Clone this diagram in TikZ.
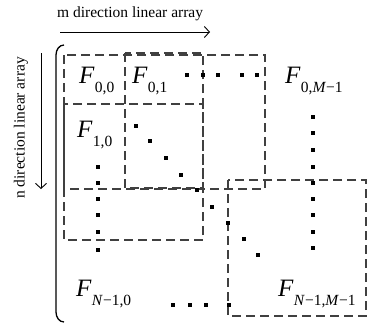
\documentclass[tikz,border=0pt]{standalone}
\usepackage{fontspec}
\setmainfont{Liberation Serif}
\usetikzlibrary{arrows.meta}
\newcommand\Fel[1]{{\fontsize{25}{25}\selectfont\itshape F}\kern0.5pt\raisebox{-9pt}{\fontsize{15.5}{15.5}\selectfont #1}}
\begin{document}
\begin{tikzpicture}[x=1pt,y=-1pt,
  box/.style={draw=black!75, line width=1.8pt, dash pattern=on 9pt off 5pt},
  dotfill/.style={fill=black},
  lbl/.style={anchor=base west, inner sep=0pt},
  axis/.style={line width=0.9pt, -{Straight Barb[length=5pt,width=11pt,line width=0.9pt]}},
  axtext/.style={inner sep=0pt, font=\fontsize{15.5}{15.5}\selectfont}]
\useasboundingbox (0,0) rectangle (372,327);
% axis labels and arrows
\node[axtext, anchor=base west] (mt) at (57,17) {m direction linear array};
\coordinate (ma) at (60,32);
\coordinate (mb) at (210,32);
\draw[axis] (ma) -- (mb);
\node[axtext, rotate=90] (nt) at (21,128) {n direction linear array};
\coordinate (na) at (41,53);
\coordinate (nb) at (41,189);
\draw[axis] (na) -- (nb);
% bracket
\draw[line width=1.3pt] (64,45) to[out=180,in=90] (56,55) -- (56,312) to[out=-90,in=180] (64,322);
% dashed boxes
\draw[box] (64,55) rectangle (265,189);
\draw[box] (125,53) rectangle (203,188);
\draw[box] (64,104) rectangle (203,240);
\draw[box] (228,180) rectangle (366,316);
% dots
\foreach \x/\y in {187/75,203/75,218/75,242/75,257/75,
  313/117,313/133,313/150,313/167,313/183,313/199,313/215,313/232,313/248,
  98/167,98/183,98/199,98/215,98/232,98/250,
  136/126,150/141,166/158,181/175,197/190,212/207,228/223,244/239,258/255,
  173/305,190/305,206/305,229/305}
  \fill[dotfill] (\x-1.8,\y-1.8) rectangle ++(3.6,3.6);
% labels
\node[lbl] (f00) at (79,83) {\Fel{0,0}};
\node[lbl] (f01) at (132,83) {\Fel{0,1}};
\node[lbl] (f0m) at (285,83) {\Fel{0,\textit{M}−1}};
\node[lbl] (f10) at (77,137) {\Fel{1,0}};
\node[lbl] (fn0) at (76,296) {\Fel{\textit{N}−1,0}};
\node[lbl] (fnm) at (278,296) {\Fel{\textit{N}−1,\textit{M}−1}};
\end{tikzpicture}
\end{document}
